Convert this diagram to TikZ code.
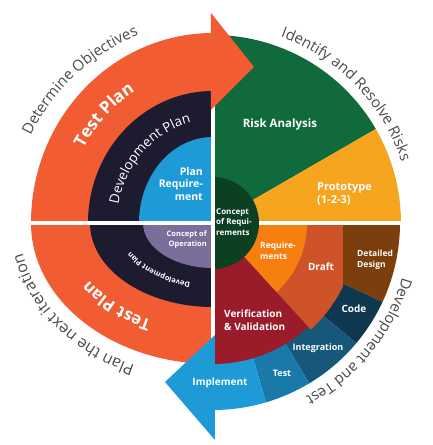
\documentclass[tikz,border=0pt]{standalone}
\usepackage{fontspec}
\setmainfont{Open Sans}
\usetikzlibrary{decorations.text}
\definecolor{cOrange}{HTML}{F25C33}
\definecolor{cNavy}{HTML}{1D1B30}
\definecolor{cLBlue}{HTML}{1E9BD7}
\definecolor{cPurple}{HTML}{7A6F9B}
\definecolor{cGreen}{HTML}{116A3B}
\definecolor{cDGreen}{HTML}{0B4023}
\definecolor{cYellow}{HTML}{F6A51E}
\definecolor{cReqOr}{HTML}{F77F10}
\definecolor{cDraft}{HTML}{CF5329}
\definecolor{cBrown}{HTML}{7B3E0C}
\definecolor{cRed}{HTML}{9A1C2A}
\definecolor{cCode}{HTML}{0F3850}
\definecolor{cInteg}{HTML}{16577A}
\definecolor{cTest}{HTML}{1979A8}
\definecolor{cImpl}{HTML}{1E9AD6}
\definecolor{cText}{HTML}{4A4A4A}
\newcommand{\myfs}[2]{\fontsize{#1}{#2}\selectfont}
\tikzset{
  lbl/.style={text=white, inner sep=0pt},
  gap/.style={white, line width=3.2pt},
}
\begin{document}
\begin{tikzpicture}[x=1pt,y=1pt]
\useasboundingbox (-213,-222) rectangle (220,223);
% top-left quadrant
\fill[cOrange] (0,0) -- (0,190) arc[start angle=90,end angle=180,x radius=182pt,y radius=190pt] -- cycle;
\fill[cNavy] (0,0) -- (0,132) arc[start angle=90,end angle=180,x radius=125pt,y radius=132pt] -- cycle;
\fill[cLBlue] (0,0) -- (0,86) arc[start angle=90,end angle=180,x radius=74pt,y radius=86pt] -- cycle;
% lower-left quadrant
\fill[cOrange] (0,0) -- (-182,0) arc[start angle=180,end angle=270,x radius=182pt,y radius=141pt] -- cycle;
\fill[cNavy] (0,0) -- (-123,0) arc[start angle=180,end angle=270,x radius=123pt,y radius=84pt] -- cycle;
\fill[cPurple] (0,0) -- (-70,0) arc[start angle=180,end angle=270,x radius=70pt,y radius=45pt] -- cycle;
% top-right quadrant
\fill[cGreen] (0,0) -- (0,188) arc[start angle=90,end angle=30,radius=188pt] -- cycle;
\fill[cYellow] (0,0) -- (30:188pt) arc[start angle=30,end angle=0,radius=188pt] -- cycle;
% bottom-right quadrant
\fill[cBrown] (0,0) -- (187,0) arc[start angle=0,end angle=-25,radius=187pt] -- cycle;
\fill[cCode] (0,0) -- (-25:187pt) arc[start angle=-25,end angle=-40,radius=187pt] -- cycle;
\fill[cInteg] (0,0) -- (-40:187pt) arc[start angle=-40,end angle=-59,radius=187pt] -- cycle;
\fill[cTest] (0,0) -- (-59:187pt) arc[start angle=-59,end angle=-73.5,radius=187pt] -- cycle;
\fill[cImpl] (0,0) -- (-73.5:187pt) arc[start angle=-73.5,end angle=-90,radius=187pt] -- cycle;
\fill[cDraft] (0,0) -- (130,0) -- (130,-63.4) arc[start angle=-26,end angle=-47.5,radius=144.6pt] -- cycle;
\fill[cReqOr] (0,0) -- (94,0) arc[start angle=0,end angle=-47.5,radius=94pt] -- cycle;
\fill[cRed] (0,0) -- (-47.5:141pt) arc[start angle=-47.5,end angle=-90,radius=141pt] -- cycle;
% gaps and centre
\draw[gap] (-213,0) -- (220,0);
\fill[cDGreen] (0,46) arc[start angle=90,end angle=-90,radius=46pt] -- cycle;
\draw[gap] (0,223) -- (0,-222);
% arrow heads
\fill[cOrange] (-2,210) -- (41,156) -- (-2,113) -- cycle;
\fill[cImpl] (2,-112) -- (-48,-159) -- (2,-217) -- cycle;
% labels
\node[lbl, font=\bfseries\myfs{10.5}{12.5}, align=right, anchor=east] (planreq) at (-10,39) {Plan\\Require-\\ment};
\node[lbl, font=\bfseries\myfs{7.5}{10}, align=right, anchor=east] (conop) at (-6,-17) {Concept of\\Operation};
\node[lbl, font=\bfseries\myfs{8}{10.5}, align=left, anchor=west] (conreq) at (3,1) {Concept\\of Requi-\\rements};
\node[lbl, font=\bfseries\myfs{11.5}{14}] (risk) at (67,98) {Risk Analysis};
\node[lbl, font=\bfseries\myfs{11}{13}, align=left, anchor=west] (proto) at (104,29.5) {Prototype\\(1-2-3)};
\node[lbl, font=\bfseries\myfs{8.5}{11.5}, align=left, anchor=west] (reqs) at (47,-28) {Require-\\ments};
\node[lbl, font=\bfseries\myfs{10}{12}] (draft) at (108,-44) {Draft};
\node[lbl, font=\bfseries\myfs{8.5}{11.5}, align=left, anchor=west] (dd) at (144,-37) {Detailed\\Design};
\node[lbl, font=\bfseries\myfs{10}{12}] (code) at (141,-86) {Code};
\node[lbl, font=\bfseries\myfs{10}{13}, align=left, anchor=west] (vv) at (11,-97.5) {Verification\\\& Validation};
\node[lbl, font=\bfseries\myfs{9}{11}] (integ) at (105,-125) {Integration};
\node[lbl, font=\bfseries\myfs{9}{11}] (test) at (69,-150) {Test};
\node[lbl, font=\bfseries\myfs{10}{12}] (impl) at (7,-160) {Implement};
% curved texts
\path[decorate, decoration={text along path, text align=center, text color=cText, text={|\myfs{15}{15}|Determine Objectives}}]
  (175:202pt) arc[start angle=175,end angle=91,radius=202pt];
\path[decorate, decoration={text along path, text align=center, text color=cText, text={|\myfs{15}{15}|Identify and Resolve Risks}}]
  (86:198pt) arc[start angle=86,end angle=2,radius=198pt];
\path[decorate, decoration={text along path, text align=center, text color=cText, text={|\myfs{15}{15}|Development and Test}}]
  (3:197pt) arc[start angle=3,end angle=-81,radius=197pt];
\path[decorate, decoration={text along path, text align=center, text color=cText, text={|\myfs{16}{16}|Plan the next iteration}}]
  (262:194pt and 156pt) arc[start angle=262,end angle=172,x radius=194pt,y radius=156pt];
\path[decorate, decoration={text along path, text align=center, text color=white, text={|\bfseries\myfs{17}{17}|Test Plan}}]
  (176:148pt and 155pt) arc[start angle=176,end angle=96,x radius=148pt,y radius=155pt];
\path[decorate, decoration={text along path, text align=center, text color=white, text={|\myfs{13.5}{13.5}|Development Plan}}]
  (181:96pt and 103pt) arc[start angle=181,end angle=91,x radius=96pt,y radius=103pt];
\path[decorate, decoration={text along path, text align=center, text color=white, text={|\bfseries\myfs{16.5}{16.5}|Test Plan}}]
  (266:147pt and 107pt) arc[start angle=266,end angle=186,x radius=147pt,y radius=107pt];
\path[decorate, decoration={text along path, text align=center, text color=white, text={|\bfseries\myfs{7.5}{7.5}|Development Plan}}]
  (269:93pt and 61pt) arc[start angle=269,end angle=189,x radius=93pt,y radius=61pt];
\end{tikzpicture}
\end{document}
